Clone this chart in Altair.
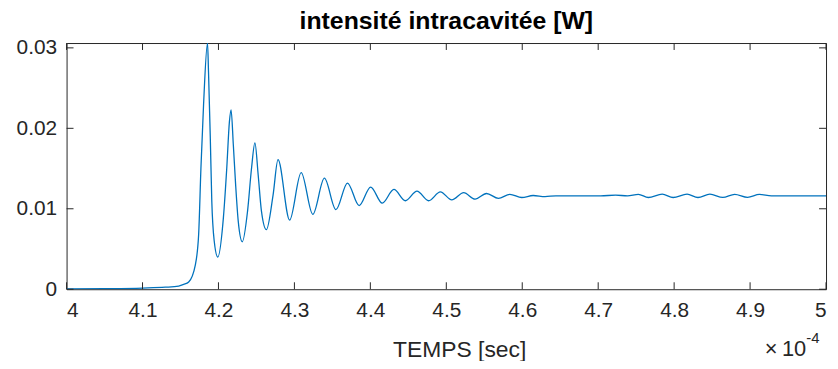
import altair as alt
import pandas as pd

# ---- data (time in units of 1e-4 s, intensity in W) ----
t_vals = [
    4.0000, 4.0500, 4.1000, 4.1300, 4.1477, 4.1542, 4.1608, 4.1695, 4.1739,
    4.1769, 4.1804, 4.1856, 4.1869, 4.1892, 4.1912, 4.1944, 4.1991, 4.2065,
    4.2109, 4.2144, 4.2166, 4.2196, 4.2226, 4.2261, 4.2314, 4.2383, 4.2435,
    4.2480, 4.2523, 4.2566, 4.2631, 4.2719, 4.2784, 4.2937, 4.3089, 4.3242,
    4.3395, 4.3546, 4.3699, 4.3852, 4.4004, 4.4157, 4.4310, 4.4461, 4.4614,
    4.4767, 4.4922, 4.5072, 4.5229, 4.5379, 4.5529, 4.5686, 4.5837, 4.5993,
    4.6144, 4.6301, 4.6444, 4.6837, 4.7033, 4.7229, 4.7386, 4.7529, 4.7660,
    4.7843, 4.7987, 4.8170, 4.8314, 4.8471, 4.8641, 4.8797, 4.8967, 4.9124,
    4.9281, 5.0000,
]
intensity = [
    0.00005, 0.00008, 0.00015, 0.00025, 0.00040, 0.00060, 0.00090, 0.00300, 0.00680,
    0.01500, 0.02300, 0.03060, 0.02700, 0.01900, 0.01100, 0.00600, 0.00400, 0.00890,
    0.01500, 0.02080, 0.02230, 0.01790, 0.01300, 0.00840, 0.00590, 0.00970, 0.01500,
    0.01820, 0.01420, 0.00970, 0.00740, 0.01170, 0.01610, 0.00860, 0.01450, 0.00930,
    0.01380, 0.00990, 0.01320, 0.01040, 0.01270, 0.01070, 0.01240, 0.01100, 0.01220,
    0.01100, 0.01210, 0.01110, 0.01200, 0.01120, 0.01190, 0.01130, 0.01180, 0.01140,
    0.01165, 0.01152, 0.01160, 0.01160, 0.01160, 0.01170, 0.01160, 0.01180, 0.01140,
    0.01182, 0.01140, 0.01182, 0.01140, 0.01181, 0.01141, 0.01180, 0.01142, 0.01178,
    0.01160, 0.01160,
]
x_ticks = [4.0, 4.1, 4.2, 4.3, 4.4, 4.5, 4.6, 4.7, 4.8, 4.9, 5.0]
y_ticks = [0.0, 0.01, 0.02, 0.03]
title_text = "intensité intracavitée [W]"
x_title = "TEMPS [sec]"
exp_base = ["×\u200910"]
exp_power = ["-4"]

# ---- styling ----
W, H = 765, 248
FONT = "Liberation Sans"
AX = "#262626"
LINE = "#0072BD"
TICK = 7

df = pd.DataFrame({"t": t_vals, "I": intensity})
xt = pd.DataFrame({"t": x_ticks})
yt = pd.DataFrame({"I": y_ticks})

xs = alt.Scale(domain=[4, 5], nice=False, zero=False)
ys = alt.Scale(domain=[0, 0.0306], nice=False, zero=False)

X = alt.X("t:Q", scale=xs, axis=alt.Axis(
    values=x_ticks, title=x_title,
    labelExpr="format(datum.value, '.1~f')",
    labelPadding=10, titlePadding=19, titleFontSize=23, titleFontWeight="normal",
    titleX=W / 2 + 13,
))
Y = alt.Y("I:Q", scale=ys, axis=alt.Axis(
    values=y_ticks, title=None,
    labelExpr="datum.value == 0 ? '0' : format(datum.value, '.2f')",
    labelPadding=10,
))

line = alt.Chart(df).mark_line(
    interpolate="monotone", color=LINE, strokeWidth=1.3, clip=True
).encode(x=X, y=Y)

bottom_ticks = alt.Chart(xt).mark_rule(color=AX, strokeWidth=1).encode(
    x=X, y=alt.value(H), y2=alt.value(H - TICK))
top_ticks = alt.Chart(xt).mark_rule(color=AX, strokeWidth=1).encode(
    x=X, y=alt.value(0), y2=alt.value(TICK))
left_ticks = alt.Chart(yt).mark_rule(color=AX, strokeWidth=1).encode(
    y=Y, x=alt.value(0), x2=alt.value(TICK))
right_ticks = alt.Chart(yt).mark_rule(color=AX, strokeWidth=1).encode(
    y=Y, x=alt.value(W), x2=alt.value(W - TICK))

exp_df = pd.DataFrame({"t": [5.0], "b": exp_base, "p": exp_power})
exp_base_txt = alt.Chart(exp_df).mark_text(
    align="right", baseline="alphabetic", dx=-20, font=FONT, fontSize=22, color=AX
).encode(x=X, y=alt.value(H + 67), text="b:N")
exp_pow_txt = alt.Chart(exp_df).mark_text(
    align="left", baseline="alphabetic", dx=-20, font=FONT, fontSize=15, color=AX
).encode(x=X, y=alt.value(H + 54), text="p:N")

chart = alt.layer(
    line, bottom_ticks, top_ticks, left_ticks, right_ticks, exp_base_txt, exp_pow_txt
).properties(
    width=W, height=H,
    title=alt.TitleParams(title_text, font=FONT, fontSize=25, fontWeight="bold",
                          color="#000000", anchor="middle", offset=3),
    autosize=alt.AutoSizeParams(type="none"),
    padding={"left": 59, "top": 34, "right": 4, "bottom": 71},
    background="white",
).configure_view(
    stroke=AX, strokeWidth=1
).configure_axis(
    domain=False, ticks=False, grid=False,
    labelFont=FONT, labelFontSize=21, labelColor=AX,
    titleFont=FONT, titleColor=AX,
)

chart.save("out.html", embed_options={"renderer": "svg", "actions": False})
